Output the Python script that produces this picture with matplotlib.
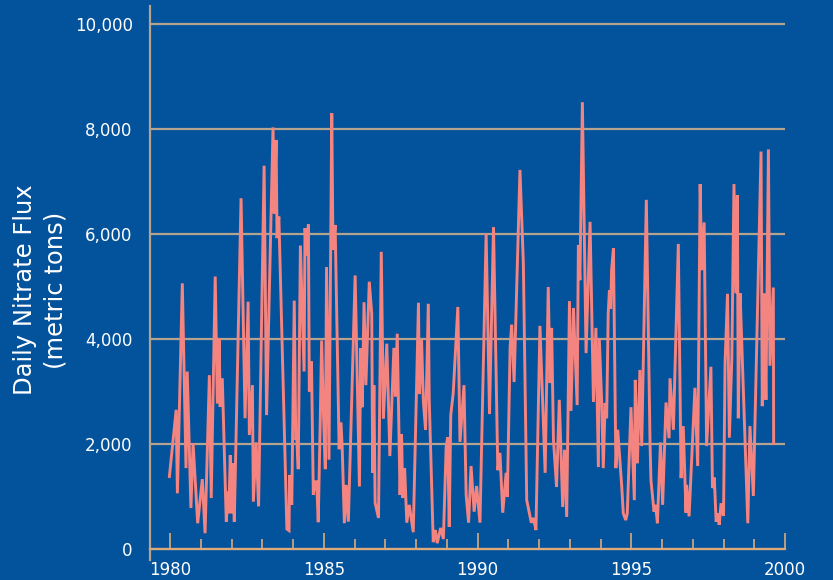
"""Daily nitrate flux time series, 1980-1999, on a dark blue panel."""
import matplotlib
matplotlib.use("Agg")
import matplotlib.pyplot as plt
from matplotlib.ticker import FuncFormatter, MultipleLocator

BG = "#03529c"
C_LINE = "#f3847f"
C_GRID = "#b3a38f"
C_AXIS = "#dcaa7a"

YEARS = [
    1979.98, 1980.20, 1980.24, 1980.40, 1980.52, 1980.56, 1980.68, 1980.75, 1980.90, 1981.05,
    1981.14, 1981.28, 1981.34, 1981.47, 1981.54, 1981.60, 1981.63, 1981.70, 1981.83, 1981.89,
    1981.91, 1981.96, 1982.00, 1982.04, 1982.09, 1982.31, 1982.44, 1982.54, 1982.58, 1982.68,
    1982.71, 1982.80, 1982.88, 1983.06, 1983.14, 1983.35, 1983.39, 1983.45, 1983.48, 1983.54,
    1983.80, 1983.87, 1983.89, 1983.96, 1984.04, 1984.09, 1984.12, 1984.17, 1984.24, 1984.36,
    1984.39, 1984.44, 1984.50, 1984.53, 1984.60, 1984.66, 1984.72, 1984.77, 1984.82, 1984.89,
    1984.93, 1984.99, 1985.05, 1985.09, 1985.17, 1985.26, 1985.30, 1985.37, 1985.50, 1985.56,
    1985.60, 1985.67, 1985.73, 1985.80, 1986.02, 1986.16, 1986.20, 1986.25, 1986.31, 1986.37,
    1986.48, 1986.56, 1986.59, 1986.63, 1986.67, 1986.78, 1986.87, 1986.94, 1987.05, 1987.15,
    1987.28, 1987.33, 1987.39, 1987.48, 1987.53, 1987.57, 1987.63, 1987.70, 1987.78, 1987.91,
    1988.08, 1988.11, 1988.18, 1988.24, 1988.31, 1988.40, 1988.43, 1988.56, 1988.63, 1988.69,
    1988.80, 1988.89, 1988.98, 1989.03, 1989.08, 1989.13, 1989.21, 1989.36, 1989.43, 1989.56,
    1989.63, 1989.71, 1989.79, 1989.89, 1989.97, 1990.08, 1990.28, 1990.39, 1990.52, 1990.66,
    1990.73, 1990.82, 1990.93, 1990.97, 1991.06, 1991.11, 1991.19, 1991.38, 1991.49, 1991.60,
    1991.75, 1991.82, 1991.90, 1992.03, 1992.20, 1992.30, 1992.36, 1992.41, 1992.47, 1992.57,
    1992.66, 1992.77, 1992.83, 1992.90, 1992.99, 1993.04, 1993.12, 1993.24, 1993.28, 1993.33,
    1993.41, 1993.53, 1993.66, 1993.77, 1993.85, 1993.93, 1993.96, 1994.04, 1994.09, 1994.15,
    1994.20, 1994.25, 1994.29, 1994.33, 1994.36, 1994.42, 1994.50, 1994.56, 1994.69, 1994.74,
    1994.82, 1994.87, 1994.99, 1995.10, 1995.13, 1995.20, 1995.28, 1995.34, 1995.49, 1995.61,
    1995.64, 1995.74, 1995.79, 1995.85, 1995.95, 1996.02, 1996.13, 1996.23, 1996.26, 1996.37,
    1996.53, 1996.62, 1996.69, 1996.78, 1996.80, 1996.88, 1997.07, 1997.16, 1997.24, 1997.29,
    1997.37, 1997.45, 1997.59, 1997.64, 1997.70, 1997.76, 1997.81, 1997.86, 1997.92, 1998.00,
    1998.05, 1998.13, 1998.19, 1998.27, 1998.34, 1998.40, 1998.45, 1998.48, 1998.54, 1998.59,
    1998.79, 1998.86, 1998.97, 1999.22, 1999.26, 1999.32, 1999.38, 1999.46, 1999.51, 1999.62,
    1999.63,
]

FLUX = [
    1380, 2650, 1060, 5060, 1540, 3380, 780, 2010, 490, 1330,
    300, 3310, 970, 5190, 2770, 4010, 2710, 3250, 520, 1090,
    680, 1790, 680, 1630, 520, 6680, 2490, 4710, 2170, 3120,
    900, 2030, 810, 7300, 2550, 8030, 6390, 7790, 5920, 6330,
    380, 350, 1410, 840, 4730, 2080, 2140, 1520, 5780, 3380,
    6110, 5590, 6180, 3000, 3570, 1030, 1280, 1280, 510, 2580,
    3970, 2580, 1520, 5370, 1700, 8300, 5700, 6170, 1900, 2410,
    1920, 490, 1220, 520, 5210, 1190, 3820, 2700, 4700, 3120,
    5090, 4480, 1450, 3120, 880, 590, 5660, 2480, 3910, 1770,
    3830, 2900, 4100, 1030, 2190, 970, 1540, 500, 840, 320,
    4690, 2950, 3980, 2800, 2270, 4670, 2840, 130, 360, 110,
    400, 190, 1940, 2130, 420, 2550, 2970, 4610, 2040, 3120,
    1030, 500, 1580, 710, 1200, 500, 6000, 2570, 6130, 1500,
    1830, 690, 1450, 990, 3850, 4270, 3180, 7220, 5450, 930,
    500, 590, 360, 4250, 1450, 4990, 3160, 4210, 2080, 1180,
    2840, 800, 1890, 610, 4720, 2630, 4590, 2740, 5790, 5120,
    8510, 3730, 6230, 2800, 4210, 1560, 4010, 2780, 1540, 2780,
    2490, 4490, 4930, 4580, 5310, 5730, 1540, 2270, 1190, 680,
    550, 680, 2700, 930, 3220, 1630, 3410, 1960, 6650, 2030,
    1310, 710, 840, 490, 2030, 840, 2790, 2110, 3250, 2270,
    5810, 1350, 2340, 690, 1220, 620, 3070, 1580, 6950, 5310,
    6220, 1960, 3470, 1160, 1360, 520, 680, 460, 870, 630,
    3550, 4860, 2120, 3630, 6950, 4870, 6740, 2490, 4870, 3980,
    490, 2340, 1010, 7570, 2720, 4870, 2840, 7610, 3490, 4980,
    2010,
]

Y_TICKS = [0, 2000, 4000, 6000, 8000, 10000]
X_TICKS = [1980, 1985, 1990, 1995, 2000]
X_LABELS = ["1980", "1985", "1990", "1995", "2000"]
Y_LABEL = "Daily Nitrate Flux\n(metric tons)"


def main():
    fig = plt.figure(figsize=(8.33, 5.8), dpi=100, facecolor=BG)
    ax = fig.add_axes([0.1801, 0.0345, 0.7623, 0.955])
    ax.set_facecolor(BG)

    ax.plot(YEARS, FLUX, color=C_LINE, linewidth=2.1, solid_joinstyle="miter", zorder=3)

    ax.set_xlim(1979.35, 2000.0)
    ax.set_ylim(-210, 10340)

    # horizontal grid only
    ax.set_yticks(Y_TICKS)
    ax.yaxis.set_major_formatter(FuncFormatter(lambda v, _: f"{int(v):,}"))
    ax.grid(axis="y", color=C_GRID, linewidth=1.6, zorder=1)
    ax.set_axisbelow(True)
    ax.tick_params(axis="y", length=0, pad=12.5, labelsize=12, labelcolor="white")

    ax.set_xticks(X_TICKS, X_LABELS)
    ax.xaxis.set_minor_locator(MultipleLocator(1))
    ax.tick_params(axis="x", which="major", direction="in", length=11.5, width=1.2,
                   color=C_AXIS, pad=9, labelsize=12, labelcolor="white")
    ax.tick_params(axis="x", which="minor", direction="in", length=7, width=1.2,
                   color=C_AXIS)
    # year labels sit just right of their ticks
    plt.setp(ax.get_xticklabels(), ha="left")

    for side in ("top", "right"):
        ax.spines[side].set_visible(False)
    ax.spines["bottom"].set_position(("data", 0))
    ax.spines["bottom"].set_color(C_AXIS)
    ax.spines["bottom"].set_linewidth(1.6)
    ax.spines["left"].set_color(C_GRID)
    ax.spines["left"].set_linewidth(1.6)

    fig.text(0.0486, 0.5, Y_LABEL, rotation=90, ha="center", va="center",
             multialignment="center", fontsize=17.5, color="white", linespacing=1.35)

    fig.savefig("out.png", dpi=100, facecolor=BG)
    plt.close(fig)


if __name__ == "__main__":
    main()
